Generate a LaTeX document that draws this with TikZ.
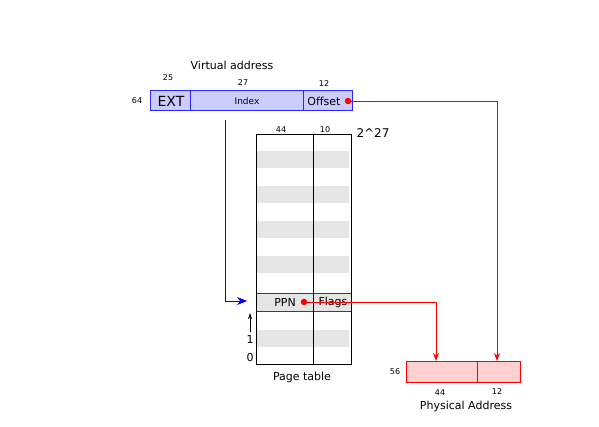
\documentclass[tikz,border=0pt]{standalone}
\usepackage{fontspec}
\setmainfont{DejaVu Sans}
\usetikzlibrary{arrows.meta}
\definecolor{vafill}{RGB}{204,204,255}
\definecolor{vaborder}{RGB}{40,40,255}
\definecolor{pafill}{RGB}{255,208,208}
\definecolor{stripe}{RGB}{229,229,229}
\begin{document}
\begin{tikzpicture}[x=1pt,y=-1pt,
  vabox/.style={draw=vaborder, fill=vafill, line width=1pt},
  pabox/.style={draw=red, fill=pafill, line width=0.9pt},
  small/.style={font=\fontsize{8}{9}\selectfont, inner sep=0pt},
  mid/.style={font=\fontsize{11}{13}\selectfont, inner sep=0pt},
  stripebox/.style={fill=stripe, draw=none},
  redline/.style={draw=red, line width=0.9pt, -{Stealth[length=8pt,width=6pt]}},
  blueline/.style={draw=blue, line width=0.9pt, -{Stealth[length=10pt,width=8pt]}},
  dot/.style={circle, fill=red, inner sep=0pt, minimum size=6.5pt}
]
\fill[white] (0,0) rectangle (599,427);
\useasboundingbox (0,0) rectangle (599,427);

% virtual address
\node[mid] (vatitle) at (232,65) {Virtual address};
\draw[vabox] (150,91) rectangle (190,111);
\draw[vabox] (190,91) rectangle (303,111);
\draw[vabox] (303,91) rectangle (352,111);
\node[inner sep=0pt, font=\fontsize{14}{16}\selectfont] (ext) at (171,101) {EXT};
\node[inner sep=0pt, font=\fontsize{9}{11}\selectfont] (index) at (247,101) {Index};
\node[mid] (offset) at (324,101) {Offset};
\node[small] (n25) at (168,78) {25};
\node[small] (n27) at (243,83) {27};
\node[small] (n12a) at (324,84) {12};
\node[small] (n64) at (137,101) {64};

% page table stripes
\foreach \y in {151,186,221,256,330}{
  \fill[stripe] (257,\y) rectangle (349,\y+17);
}
\draw[fill=stripe, draw=black!75, line width=1pt] (256,294) rectangle (351,311);
\draw[line width=1pt] (256,135) rectangle (351,364);
\draw[line width=1pt] (313,135) -- (313,364);
\node[mid] (ppn) at (285,302.5) {PPN};
\node[mid] (flags) at (333,302.5) {Flags};
\node[small] (n44a) at (281,130) {44};
\node[small] (n10) at (325,130) {10};
\node[inner sep=0pt, font=\fontsize{12}{14}\selectfont] (n227) at (373,133) {2\^{}27};
\node[mid] (one) at (250,339) {1};
\node[mid] (zero) at (250,357) {0};
\coordinate (upbot) at (250,332);
\coordinate (uptop) at (250,313);
\draw[-{Stealth[length=6pt,width=4pt]}, line width=0.8pt] (upbot) -- (uptop);
\node[mid] (pt) at (302,377) {Page table};

% physical address
\draw[pabox] (406,361) rectangle (477,382);
\draw[pabox] (477,361) rectangle (520,382);
\coordinate (pa44) at (436,361);
\coordinate (pa12) at (497,361);
\node[small] (n56) at (395,372) {56};
\node[small] (n44b) at (440,393) {44};
\node[small] (n12b) at (497,392) {12};
\node[mid] (phys) at (466,406) {Physical Address};

% connectors
\coordinate (idxsrc) at (225,120);
\coordinate (ptentry) at (247,301);
\draw[blueline] (idxsrc) |- (ptentry);

\node[dot] (odot) at (348,101) {};
\node[dot] (pdot) at (304,302) {};
\draw[redline] (odot.center) -| (pa12);
\draw[redline] (pdot.center) -| (pa44);
\end{tikzpicture}
\end{document}
